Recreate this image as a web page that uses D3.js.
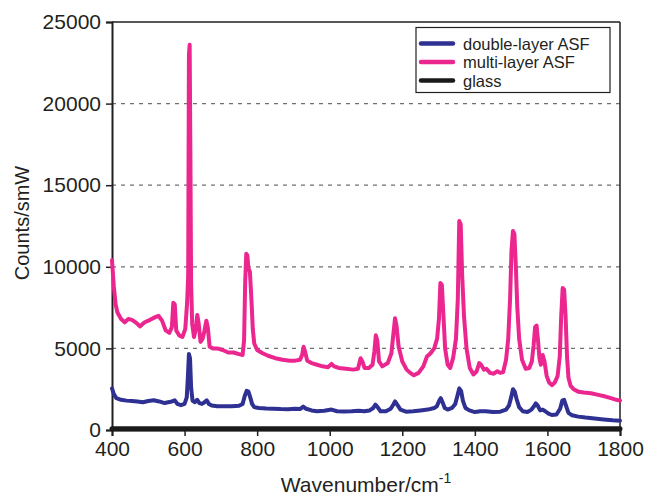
<!DOCTYPE html>
<html><head><meta charset="utf-8">
<script src="https://cdn.jsdelivr.net/npm/d3@7"></script>
<style>
html,body{margin:0;padding:0;background:#fff;}
svg{display:block;font-family:"Liberation Sans",Arial,Helvetica,sans-serif;}
</style></head>
<body>
<svg id="chart" width="645" height="497"></svg>
<script>
// ---- data ----
const seriesNames = ["double-layer ASF", "multi-layer ASF", "glass"];
const seriesColors = ["#2e3192", "#ec268f", "#1a1a1a"];
const xTicks = [400, 600, 800, 1000, 1200, 1400, 1600, 1800];
const yTicks = [0, 5000, 10000, 15000, 20000, 25000];

const multiWn = [400,405,410,415,425,435,445,455,465,477,490,505,518,528,538,548,558,565,569,573,577,585,594,602,607,610,612,614,616,618,621,626,631,635,639,644,650,655,660,664,669,678,690,705,720,735,750,760,764,767,770,773,776,780,784,788,792,800,815,830,850,870,890,905,918,924,928,932,938,950,965,980,995,1005,1012,1025,1045,1065,1078,1085,1090,1096,1108,1118,1123,1127,1131,1136,1145,1160,1170,1176,1180,1184,1190,1200,1212,1222,1232,1245,1258,1268,1278,1288,1296,1301,1305,1309,1313,1318,1325,1332,1340,1348,1353,1357,1361,1365,1370,1377,1386,1396,1405,1412,1417,1425,1432,1442,1452,1462,1470,1478,1486,1492,1497,1501,1505,1509,1513,1517,1522,1530,1540,1550,1557,1562,1566,1570,1574,1578,1582,1587,1592,1598,1605,1613,1620,1628,1634,1638,1642,1646,1650,1654,1658,1664,1672,1685,1700,1720,1740,1760,1775,1790,1800];
const multiVal = [10400,8800,7700,7200,6800,6600,6800,6750,6600,6350,6600,6750,6900,7000,6700,6100,5950,6300,7800,7700,6100,5800,5700,6200,7800,9500,23000,23600,17000,9000,6500,5700,6200,7050,6500,5400,5600,6100,6700,6300,5100,5000,5000,4900,4750,4750,4650,4600,5500,9000,10800,10700,9900,9700,8100,6200,5300,4900,4700,4550,4400,4300,4250,4250,4300,4600,5100,4800,4250,4100,4000,3900,3850,4050,3900,3800,3750,3700,3750,4400,4200,3800,3800,4000,4800,5800,5500,4200,3900,4100,4700,6000,6850,6400,5100,4200,3700,3500,3350,3500,3900,4500,4700,5000,5600,6800,9000,8900,7200,5000,4000,3800,4400,5600,8000,12800,12600,9500,7000,5000,3800,3400,3600,4100,4000,3700,3750,3500,3450,3600,3500,3550,4300,5600,8000,11000,12200,12000,10000,7500,5600,4300,3750,3800,4200,5200,6300,6400,5500,4400,4000,4600,4200,3300,2900,2750,2900,3300,4500,7000,8700,8600,7000,4500,3200,2700,2500,2350,2300,2250,2150,2050,1950,1850,1800];

const doubleWn = [400,405,412,425,440,455,470,485,500,515,530,545,555,565,573,580,590,600,606,609,612,615,618,622,628,635,641,648,655,661,667,675,690,710,730,750,760,766,771,776,781,786,792,805,825,845,865,885,905,918,927,935,950,965,985,1005,1020,1040,1060,1080,1095,1110,1120,1126,1132,1140,1155,1168,1175,1180,1186,1195,1210,1230,1250,1270,1288,1295,1302,1306,1311,1317,1325,1337,1346,1352,1357,1362,1367,1374,1385,1400,1415,1430,1450,1470,1486,1494,1500,1505,1510,1515,1522,1532,1545,1556,1563,1568,1573,1580,1587,1594,1603,1612,1625,1635,1641,1646,1651,1658,1668,1685,1705,1730,1755,1780,1800];
const doubleVal = [2550,2200,1950,1850,1800,1780,1750,1700,1780,1820,1750,1650,1700,1750,1820,1600,1520,1600,2000,3200,4650,4400,2600,1800,1700,1850,1650,1600,1700,1820,1600,1500,1450,1450,1450,1480,1600,2100,2400,2350,2000,1600,1400,1350,1320,1300,1280,1270,1300,1280,1430,1300,1200,1150,1180,1250,1150,1130,1150,1180,1150,1200,1350,1550,1400,1150,1150,1300,1550,1750,1550,1250,1120,1150,1200,1250,1350,1450,1800,1950,1700,1350,1250,1350,1600,2100,2550,2400,1800,1350,1200,1100,1150,1150,1100,1120,1250,1500,2000,2500,2350,1900,1400,1150,1100,1250,1450,1630,1500,1200,1250,1150,1000,920,950,1300,1800,1850,1500,1050,900,820,760,700,650,600,570];

const glassWn = [400,600,800,1000,1200,1400,1600,1800];
const glassVal = [80,80,80,80,80,80,80,80];

// ---- chart ----
const svg = d3.select("#chart");
const L = 112, R = 620, T = 22, B = 430;
const x = d3.scaleLinear().domain([400,1800]).range([L,R]);
const y = d3.scaleLinear().domain([0,25000]).range([B,T]);
const axisColor = "#231f20";

// gridlines
svg.append("g").selectAll("line").data(yTicks.filter(v=>v>0 && v<25000)).join("line")
  .attr("x1",L).attr("x2",R).attr("y1",d=>y(d)).attr("y2",d=>y(d))
  .attr("stroke","#707070").attr("stroke-width",1.2).attr("stroke-dasharray","4,5");

// frame (top and right)
svg.append("line").attr("x1",L).attr("x2",R).attr("y1",T).attr("y2",T).attr("stroke",axisColor).attr("stroke-width",1.5);
svg.append("line").attr("x1",R).attr("x2",R).attr("y1",T).attr("y2",B).attr("stroke",axisColor).attr("stroke-width",1.5);

// axes
const yAxis = d3.axisLeft(y).tickValues(yTicks).tickSize(6).tickPadding(5).tickFormat(d3.format("d"));
const gy = svg.append("g").attr("transform",`translate(${L},0)`).call(yAxis);
const xAxis = d3.axisBottom(x).tickValues(xTicks).tickSize(6).tickPadding(5).tickFormat(d3.format("d"));
const gx = svg.append("g").attr("transform",`translate(0,${B})`).call(xAxis);
[gx,gy].forEach(g=>{
  g.select(".domain").attr("stroke",axisColor).attr("stroke-width",2);
  g.selectAll(".tick line").attr("stroke",axisColor).attr("stroke-width",1.5);
  g.selectAll(".tick text").attr("fill","#231f20").style("font-size","21px").style("font-family","Liberation Sans, Arial, sans-serif");
});

// lines
const line = d3.line().x(d=>x(d[0])).y(d=>y(d[1])).curve(d3.curveLinear);
const datasets = [
  d3.zip(doubleWn, doubleVal),
  d3.zip(multiWn, multiVal),
  d3.zip(glassWn, glassVal)
];
const widths = [4, 4, 5];
[2,1,0].forEach(i=>{
  svg.append("path").datum(datasets[i]).attr("d",line)
    .attr("fill","none").attr("stroke",seriesColors[i]).attr("stroke-width",widths[i])
    .attr("stroke-linejoin","round").attr("stroke-linecap","round");
});

// axis titles
svg.append("text").attr("transform","translate(29,223) rotate(-90)").attr("text-anchor","middle")
  .style("font-size","20px").attr("fill","#231f20").text("Counts/smW");
const xt = svg.append("text").attr("x",366).attr("y",492).attr("text-anchor","middle")
  .style("font-size","21px").attr("fill","#231f20");
xt.append("tspan").text("Wavenumber/cm");
xt.append("tspan").attr("dy",-9).style("font-size","14px").text("-1");

// legend
const lg = svg.append("g");
lg.append("rect").attr("x",416).attr("y",27.5).attr("width",194).attr("height",65)
  .attr("fill","#fff").attr("stroke",axisColor).attr("stroke-width",1.2);
const rowsY = [43.5, 62, 80.5];
seriesNames.forEach((n,i)=>{
  lg.append("line").attr("x1",421).attr("x2",453).attr("y1",rowsY[i]).attr("y2",rowsY[i])
    .attr("stroke",seriesColors[i]).attr("stroke-width",4.5).attr("stroke-linecap","round");
  lg.append("text").attr("x",463).attr("y",rowsY[i]+6).style("font-size","16.5px")
    .attr("fill","#231f20").text(n);
});
</script>
</body></html>
